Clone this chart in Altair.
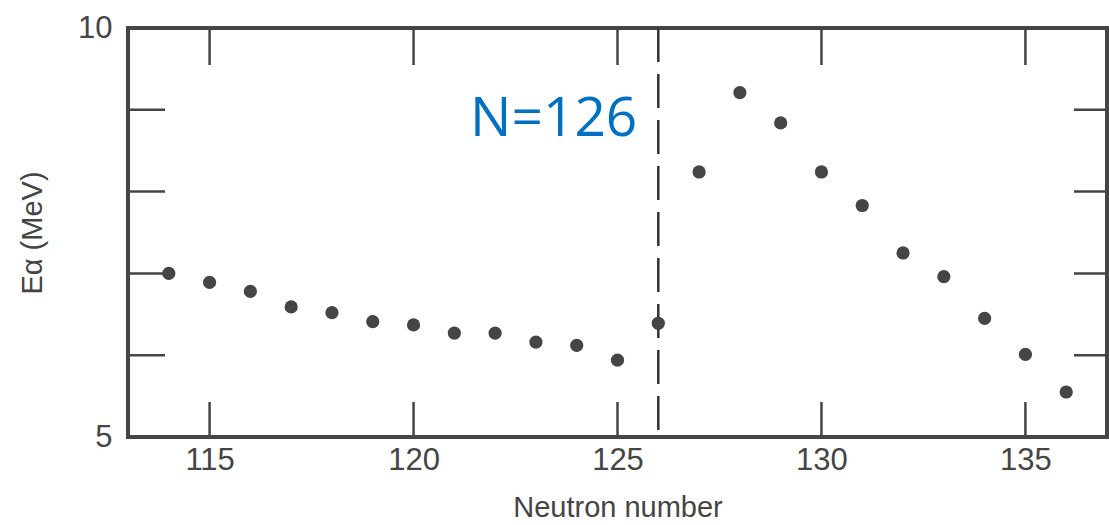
import altair as alt
import pandas as pd

# Alpha-decay energies against neutron number
neutron_number = [114, 115, 116, 117, 118, 119, 120, 121, 122, 123, 124, 125,
                  126, 127, 128, 129, 130, 131, 132, 133, 134, 135, 136]
alpha_energy = [7.00, 6.89, 6.78, 6.59, 6.52, 6.41, 6.37, 6.27, 6.27, 6.16, 6.12, 5.94,
                6.39, 8.24, 9.21, 8.84, 8.24, 7.83, 7.25, 6.96, 6.45, 6.01, 5.55]

x_tick_values = [115, 120, 125, 130, 135]
y_tick_values = [6, 7, 8, 9]
y_label_values = [5, 10]

shell_closure = 126
shell_label = "N=126"
shell_label_energy = 8.68

W, H = 979, 409
INK = "#454545"

points_df = pd.DataFrame({"n": neutron_number, "e": alpha_energy})
xt_df = pd.DataFrame({"n": x_tick_values})
yt_df = pd.DataFrame({"e": y_tick_values})
shell_df = pd.DataFrame({"n": [shell_closure], "e": [shell_label_energy], "label": [shell_label]})

x_scale = alt.Scale(domain=[113, 137], nice=False, zero=False)
y_scale = alt.Scale(domain=[5, 10], nice=False, zero=False)

x_enc = alt.X(
    "n:Q", scale=x_scale,
    axis=alt.Axis(values=x_tick_values, format="d", title="Neutron number", ticks=False,
                  domain=False, grid=False, labelFontSize=31, labelFont="Liberation Sans",
                  labelColor=INK, labelPadding=8, titleFontSize=29, titleFont="Liberation Sans",
                  titleFontWeight="normal", titleColor=INK, titlePadding=18),
)
y_enc = alt.Y(
    "e:Q", scale=y_scale,
    axis=alt.Axis(values=y_label_values, format="d", title="Eα (MeV)", ticks=False,
                  domain=False, grid=False, labelFontSize=31, labelFont="Liberation Sans",
                  labelColor=INK, labelPadding=16, titleFontSize=29, titleFont="Liberation Sans",
                  titleFontWeight="normal", titleColor=INK, titlePadding=30),
)

points = alt.Chart(points_df).mark_circle(size=175, color=INK, opacity=1).encode(x=x_enc, y=y_enc)

# inward ticks on all four sides of the frame
top_ticks = alt.Chart(xt_df).mark_rule(color=INK, strokeWidth=2.5).encode(
    x=alt.X("n:Q", scale=x_scale), y=alt.value(0), y2=alt.value(37))
bottom_ticks = alt.Chart(xt_df).mark_rule(color=INK, strokeWidth=2.5).encode(
    x=alt.X("n:Q", scale=x_scale), y=alt.value(H), y2=alt.value(H - 35))
left_ticks = alt.Chart(yt_df).mark_rule(color=INK, strokeWidth=2.5).encode(
    y=alt.Y("e:Q", scale=y_scale), x=alt.value(0), x2=alt.value(37))
right_ticks = alt.Chart(yt_df).mark_rule(color=INK, strokeWidth=2.5).encode(
    y=alt.Y("e:Q", scale=y_scale), x=alt.value(W), x2=alt.value(W - 33))

shell_line = alt.Chart(shell_df).mark_rule(color="#333333", strokeWidth=2.5, strokeDash=[34, 12]).encode(
    x=alt.X("n:Q", scale=x_scale))

shell_text = alt.Chart(shell_df).mark_text(
    align="right", baseline="alphabetic", dx=-21, fontSize=55, font="Open Sans", color="#0070C0"
).encode(x=alt.X("n:Q", scale=x_scale), y=alt.Y("e:Q", scale=y_scale), text="label:N")

chart = alt.layer(
    shell_line, top_ticks, bottom_ticks, left_ticks, right_ticks, points, shell_text
).properties(
    width=W, height=H,
    autosize=alt.AutoSizeParams(type="none"),
    padding={"left": 128, "top": 28, "right": 2, "bottom": 88},
    background="white",
).configure_view(stroke=INK, strokeWidth=4)

chart.save("out.html", embed_options={"renderer": "svg", "actions": False})
